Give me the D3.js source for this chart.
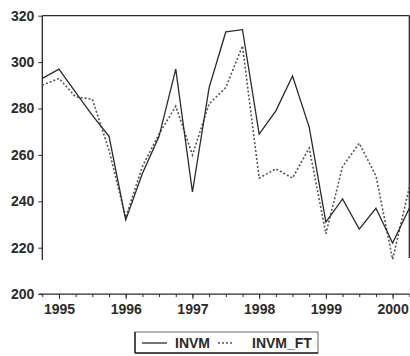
<!DOCTYPE html>
<html>
<head>
<meta charset="utf-8">
<script src="https://cdn.jsdelivr.net/npm/d3@7"></script>
<style>
  body { margin: 0; background: #fff; }
  text { font-family: "Liberation Sans", Arial, sans-serif; fill: #2b2b2b; font-weight: bold; }
</style>
</head>
<body>
<svg id="chart" width="410" height="356"></svg>
<script>
// Quarterly observations
const quarters = [
  "1994Q4",
  "1995Q1", "1995Q2", "1995Q3", "1995Q4",
  "1996Q1", "1996Q2", "1996Q3", "1996Q4",
  "1997Q1", "1997Q2", "1997Q3", "1997Q4",
  "1998Q1", "1998Q2", "1998Q3", "1998Q4",
  "1999Q1", "1999Q2", "1999Q3", "1999Q4",
  "2000Q1", "2000Q2"
];
const invm = [293, 297, 287, 277, 268, 232, 252, 268, 297, 244, 289, 313,
  314, 269, 279, 294, 272, 231, 241, 228, 237, 222, 237];
const invmFt = [290, 293, 285, 284, 262, 233, 255, 269, 281, 260, 282, 289,
  307, 250, 254, 250, 263, 226, 255, 265, 251, 215, 246];
const yTicks = [200, 220, 240, 260, 280, 300, 320];
const yearTicks = [1995, 1996, 1997, 1998, 1999, 2000];
const seriesNames = ["INVM", "INVM_FT"];

const LEFT = 42.3, RIGHT = 409.3, TOP = 15.7, BOTTOM = 294.1;
const AXISBREAK = 260;
const LINECOLOR = "#2a2a2a";
const TEXTCOLOR = "#2b2b2b";

// "1996Q3" -> 1996.5
const toYear = q => +q.slice(0, 4) + (+q.slice(5) - 1) / 4;
const times = quarters.map(toYear);

const svg = d3.select("#chart");

const x = d3.scaleLinear()
  .domain([d3.min(times), d3.max(times)])
  .range([LEFT, RIGHT]);
const y = d3.scaleLinear()
  .domain([200, 320])
  .range([BOTTOM, TOP]);

// Frame: top border, left axis and right border stop at the axis break.
const frame = svg.append("g").attr("stroke", LINECOLOR).attr("stroke-width", 1.3);
frame.append("line").attr("x1", LEFT).attr("x2", RIGHT).attr("y1", TOP).attr("y2", TOP);
frame.append("line").attr("x1", LEFT).attr("x2", LEFT).attr("y1", TOP).attr("y2", AXISBREAK);
frame.append("line").attr("x1", RIGHT).attr("x2", RIGHT).attr("y1", TOP).attr("y2", AXISBREAK - 2);
frame.append("line").attr("x1", LEFT - 3).attr("x2", RIGHT).attr("y1", BOTTOM).attr("y2", BOTTOM);

const styleText = sel => sel.attr("font-size", 14).attr("fill", TEXTCOLOR)
  .style("font-family", '"Liberation Sans", Arial, sans-serif')
  .style("font-weight", "bold");

// Y axis ticks and labels
const yAxis = svg.append("g")
  .attr("transform", `translate(${LEFT},0)`)
  .call(d3.axisLeft(y).tickValues(yTicks).tickSize(4).tickPadding(4).tickFormat(d3.format("d")));
yAxis.select(".domain").remove();
yAxis.selectAll("line").attr("stroke", LINECOLOR);
styleText(yAxis.selectAll("text"));

// X axis: quarter ticks, years labelled
const quarterTicks = d3.range(yearTicks[0] - 0.25, d3.max(times) + 0.01, 0.25);
const xMinor = svg.append("g")
  .attr("transform", `translate(0,${BOTTOM})`)
  .call(d3.axisBottom(x).tickValues(quarterTicks).tickSize(3).tickFormat(""));
xMinor.select(".domain").remove();
xMinor.selectAll("line").attr("stroke", LINECOLOR);

const xAxis = svg.append("g")
  .attr("transform", `translate(0,${BOTTOM})`)
  .call(d3.axisBottom(x).tickValues(yearTicks).tickSize(5).tickPadding(5).tickFormat(d3.format("d")));
xAxis.select(".domain").remove();
xAxis.selectAll("line").attr("stroke", LINECOLOR);
styleText(xAxis.selectAll("text"));

// Series lines
const line = d3.line()
  .x((d, i) => x(times[i]))
  .y(d => y(d));

svg.append("path")
  .datum(invmFt)
  .attr("fill", "none")
  .attr("stroke", "#555")
  .attr("stroke-width", 1.6)
  .attr("stroke-dasharray", "2,2")
  .attr("d", line);

svg.append("path")
  .datum(invm)
  .attr("fill", "none")
  .attr("stroke", LINECOLOR)
  .attr("stroke-width", 1.3)
  .attr("d", line);

// Legend
const legend = svg.append("g").attr("transform", "translate(135,332)");
legend.append("rect")
  .attr("width", 183).attr("height", 21)
  .attr("fill", "none").attr("stroke", "#666").attr("stroke-width", 1);
legend.append("line")
  .attr("x1", 0).attr("x2", 0).attr("y1", 0).attr("y2", 21)
  .attr("stroke", LINECOLOR).attr("stroke-width", 1.5);
legend.append("line")
  .attr("x1", 0).attr("x2", 183).attr("y1", 21).attr("y2", 21)
  .attr("stroke", LINECOLOR).attr("stroke-width", 1.5);
legend.append("line")
  .attr("x1", 7).attr("x2", 32).attr("y1", 11).attr("y2", 11)
  .attr("stroke", LINECOLOR).attr("stroke-width", 1.3);
legend.append("text").attr("x", 40).attr("y", 16).attr("font-size", 14).text(seriesNames[0]);
legend.append("line")
  .attr("x1", 83).attr("x2", 99).attr("y1", 11).attr("y2", 11)
  .attr("stroke", "#555").attr("stroke-width", 1.6).attr("stroke-dasharray", "2,2");
legend.append("text").attr("x", 117).attr("y", 16).attr("font-size", 14).text(seriesNames[1]);
</script>
</body>
</html>
